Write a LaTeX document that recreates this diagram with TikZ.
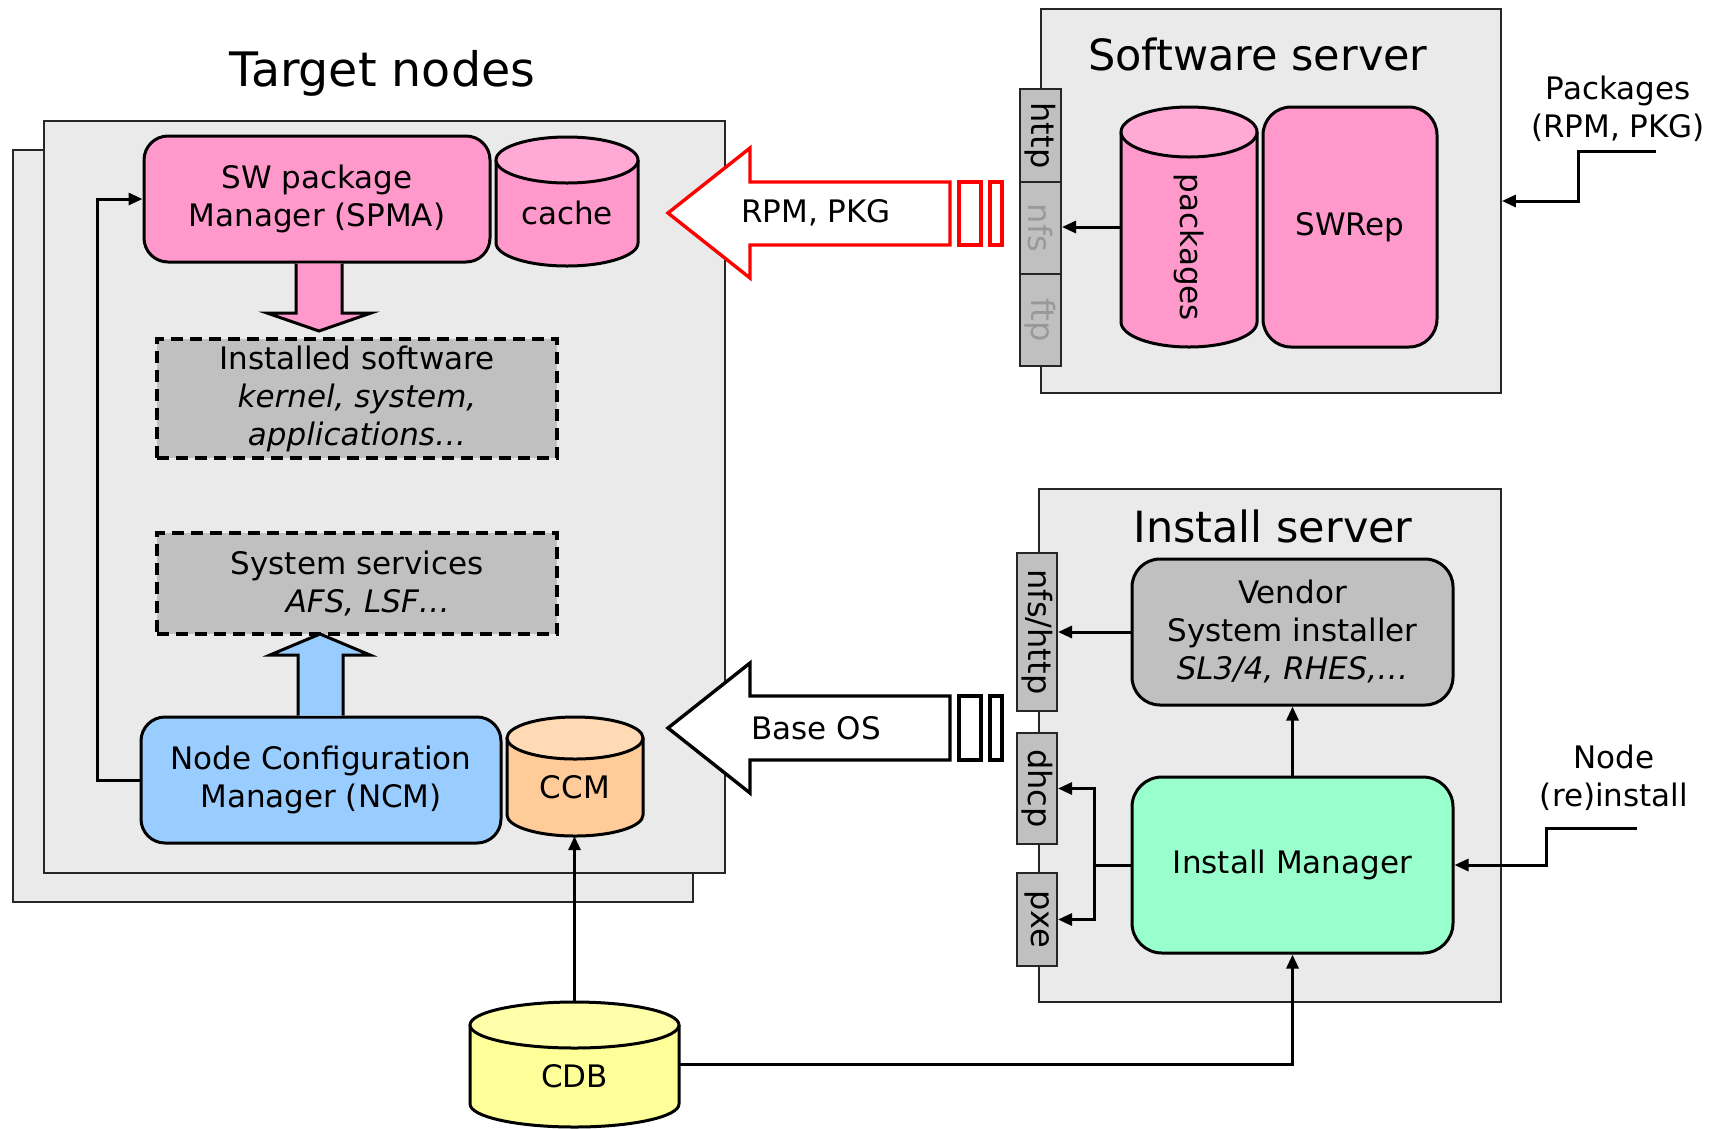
\documentclass[tikz,border=0pt]{standalone}
\usepackage{fontspec}
\setmainfont{DejaVu Sans}
\usepackage{graphicx}
\usetikzlibrary{arrows.meta,calc}

\definecolor{panel}{HTML}{EAEAEA}
\definecolor{rose}{HTML}{FF99CC}
\definecolor{roselid}{HTML}{FFAAD5}
\definecolor{silver}{HTML}{C0C0C0}
\definecolor{sky}{HTML}{99CCFF}
\definecolor{peach}{HTML}{FFCC99}
\definecolor{peachlid}{HTML}{FFDAB5}
\definecolor{lemon}{HTML}{FFFF99}
\definecolor{lemonlid}{HTML}{FFFFAA}
\definecolor{mint}{HTML}{99FFCC}

% cylinder: name, centre x, top y, width, height, lid radius, body, lid, text
\newcommand\drum[9]{%
  \filldraw[line width=3pt, fill=#7]
    ({#2-#4/2},{-(#3+#6)}) -- ({#2-#4/2},{-(#3+#5-#6)})
    arc[start angle=180, end angle=360, x radius=#4/2, y radius=#6]
    -- ({#2+#4/2},{-(#3+#6)});
  \filldraw[line width=3pt, fill=#8]
    (#2,{-(#3+#6)}) ellipse[x radius=#4/2, y radius=#6];
  \node[minimum width=#4, minimum height=#5] (#1) at (#2,{-(#3+#5/2)}) {};
  \node (#1-txt) at (#2,{-(#3+#6+#3+#5)/2}) {#9};
}

\begin{document}
\begin{tikzpicture}[x=1pt, y=1pt,
  font=\fontsize{31}{38}\selectfont, >={Triangle[length=14pt, width=12pt]},
  every node/.style={inner sep=0pt},
  frame/.style={draw=black!85, line width=1.8pt, fill=panel},
  unit/.style={draw, line width=3pt, rounded corners=24pt, align=center},
  layer/.style={draw, line width=3.2pt, dash pattern=on 12pt off 7pt,
                fill=silver, align=center},
  port/.style={draw=black!85, line width=2pt, fill=silver, minimum width=41pt,
               font=\fontsize{32}{38}\selectfont},
  wire/.style={->, line width=3pt},
  bulk/.style={draw, line width=3.4pt, fill=white, line join=miter},
  head/.style={font=\fontsize{43}{50}\selectfont},
]
\useasboundingbox (0,0) rectangle (1720,-1128);

% target nodes: two stacked panels
\node[frame, minimum width=680, minimum height=752] (back) at (353,-526) {};
\node[frame, minimum width=681, minimum height=752] (front) at (384.5,-497) {};
\node[font=\fontsize{47.5}{56}\selectfont] (tntitle) at (382.5,-73) {Target nodes};

\node[unit, fill=rose, minimum width=346, minimum height=126] (spma) at (317,-199)
  {SW package\\Manager (SPMA)};
\drum{cache}{567}{137}{142}{129}{23}{rose}{roselid}{cache}

\node[layer, minimum width=400, minimum height=119] (installed) at (357,-398.5)
  {Installed software\\\textit{kernel, system,}\\\textit{applications…}};
\node[layer, minimum width=400, minimum height=101] (services) at (357,-583.5)
  {System services\\\hspace*{0.7em}\textit{AFS, LSF…}};

\node[unit, fill=sky, minimum width=360, minimum height=126] (ncm) at (321,-780)
  {Node Configuration\\Manager (NCM)};
\drum{ccm}{575}{717}{136}{119}{21}{peach}{peachlid}{CCM}

% fat arrows inside the node
\draw[bulk, fill=rose, line width=3pt] (spma.south -| 296,0) -- (296,-313) -- (267,-313)
  -- (319,-331) -- (371,-313) -- (342,-313) -- (spma.south -| 342,0);
\draw[bulk, fill=sky, line width=3pt] (ncm.north -| 298,0) -- (298,-655) -- (270,-655)
  -- (320,-634) -- (370,-655) -- (343,-655) -- (ncm.north -| 343,0);

% NCM drives SPMA
\coordinate (loop) at (97,-199);
\draw[wire] (ncm.west) -| (loop) -- (spma.west);

% software server
\node[frame, minimum width=460, minimum height=384] (swsrv) at (1271,-201) {};
\node[head] (swtitle) at (1258,-54) {Software server};
\node[port, minimum height=93] (http) at (1040.5,-135.5) {\rotatebox{-90}{http}};
\node[port, minimum height=92] (nfs) at (1040.5,-228) {\rotatebox{-90}{\color{black!40}nfs}};
\node[port, minimum height=92] (ftp) at (1040.5,-320) {\rotatebox{-90}{\color{black!40}ftp}};
\drum{pkgs}{1189}{107}{136}{240}{25}{rose}{roselid}{\rotatebox{-90}{\hspace*{16pt}packages}}
\node[unit, fill=rose, rounded corners=28pt, minimum width=174, minimum height=240]
  (swrep) at (1350,-227) {SWRep};
\draw[wire] (pkgs.west) -- (pkgs.west -| nfs.east);

\node[align=center] (pkglabel) at (1618,-109) {Packages\\(RPM, PKG)};
\coordinate (pkgin) at (1656,-151);
\draw[wire] (pkgin) -- ++(-78,0) |- (swsrv.east);

% RPM, PKG transfer
\draw[bulk, draw=red] (668,-213) -- (750,-148) -- (750,-182) -- (950,-182)
  -- (950,-245) -- (750,-245) -- (750,-278) -- cycle;
\draw[bulk, draw=red] (959,-182) rectangle (981,-245);
\draw[bulk, draw=red] (990,-182) rectangle (1002,-245);
\node (rpm) at (816,-213) {RPM, PKG};

% install server
\node[frame, minimum width=462, minimum height=513] (insrv) at (1270,-745.5) {};
\node[head] (istitle) at (1273,-526) {Install server};
\node[port, minimum width=40, minimum height=158] (nfshttp) at (1037,-632) {\rotatebox{-90}{nfs/http}};
\node[port, minimum width=40, minimum height=111] (dhcp) at (1037,-788.5) {\rotatebox{-90}{dhcp}};
\node[port, minimum width=40, minimum height=93] (pxe) at (1037,-919.5) {\rotatebox{-90}{pxe}};
\node[unit, fill=silver, rounded corners=28pt, minimum width=321, minimum height=146]
  (vendor) at (1292.5,-632) {Vendor\\System installer\\\textit{SL3/4, RHES,…}};
\node[unit, fill=mint, rounded corners=30pt, minimum width=321, minimum height=176]
  (im) at (1292.5,-865) {Install Manager};
\draw[wire] (vendor.west) -- (nfshttp.east);
\draw[wire] (im.north) -- (vendor.south);
\draw[wire] (im.west) -- ++(-36,0) coordinate (fork) |- (dhcp.east);
\draw[wire] (fork) |- (pxe.east);

\node[align=center] (reinstall) at (1614,-778) {Node\\(re)install};
\coordinate (reinst) at (1637,-828);
\draw[wire] (reinst) -- ++(-91,0) |- (im.east);

% Base OS transfer
\draw[bulk] (668,-728) -- (750,-663) -- (750,-696) -- (950,-696)
  -- (950,-760) -- (750,-760) -- (750,-793) -- cycle;
\draw[bulk] (959,-696) rectangle (981,-760);
\draw[bulk] (990,-696) rectangle (1002,-760);
\node (baseos) at (816,-728) {Base OS};

% configuration database
\drum{cdb}{574.5}{1002}{209}{125}{23}{lemon}{lemonlid}{CDB}
\draw[wire] (cdb.north) -- (cdb.north |- ccm.south);
\draw[wire] (cdb.east) -| (im.south);
\end{tikzpicture}
\end{document}
